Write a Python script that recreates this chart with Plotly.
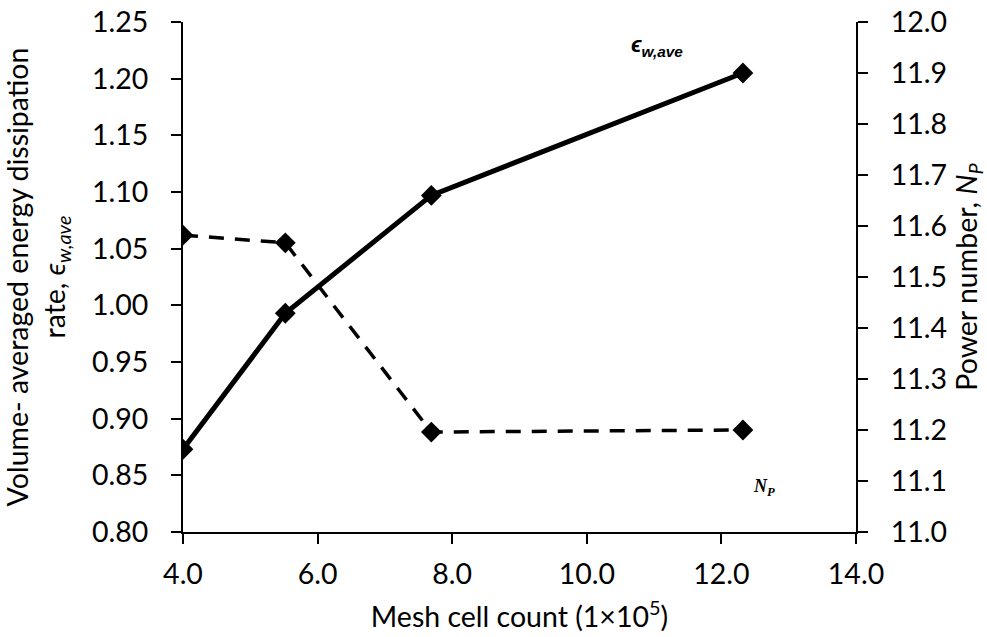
import plotly.graph_objects as go

mesh_cells = [4.0, 5.52, 7.69, 12.32]
eps_ave = [0.873, 0.993, 1.097, 1.205]
power_number = [11.582, 11.567, 11.196, 11.200]

x_ticks = [4, 6, 8, 10, 12, 14]
left_ticks = [0.80, 0.85, 0.90, 0.95, 1.00, 1.05, 1.10, 1.15, 1.20, 1.25]
right_ticks = [11.0, 11.1, 11.2, 11.3, 11.4, 11.5, 11.6, 11.7, 11.8, 11.9, 12.0]

FONT = "Lato"
TS = 28.5

fig = go.Figure()
fig.add_trace(go.Scatter(
    x=mesh_cells, y=eps_ave, mode="lines+markers",
    line=dict(color="black", width=5),
    marker=dict(symbol="diamond", size=16, color="black"),
    showlegend=False,
))
fig.add_trace(go.Scatter(
    x=mesh_cells, y=power_number, mode="lines+markers", yaxis="y2",
    line=dict(color="black", width=3.5, dash="15px,11px"),
    marker=dict(symbol="diamond", size=16, color="black"),
    showlegend=False,
))

axis_common = dict(
    showline=True, linecolor="black", linewidth=2, mirror=False,
    ticks="outside", ticklen=10, tickwidth=2, tickcolor="black",
    showgrid=False, zeroline=False,
    tickfont=dict(family=FONT, size=TS, color="black"),
)

fig.update_layout(
    width=987, height=637,
    margin=dict(l=183, r=131, t=22, b=105),
    paper_bgcolor="white", plot_bgcolor="white",
    font=dict(family=FONT, color="black"),
    xaxis=dict(
        range=[4, 14], tickvals=x_ticks, tickformat=".1f",
        title=dict(text="Mesh cell count (1×10<sup>5</sup>)",
                   font=dict(family=FONT, size=TS), standoff=18),
        ticklabelstandoff=6,
        automargin=False,
        **axis_common,
    ),
    yaxis=dict(
        range=[0.80, 1.25], tickvals=left_ticks, tickformat=".2f",
        title=dict(text="Volume- averaged energy dissipation<br>rate, <i>ϵ<sub>w,ave</sub></i>",
                   font=dict(family=FONT, size=TS), standoff=32),
        ticklabelstandoff=17,
        automargin=False,
        **axis_common,
    ),
    yaxis2=dict(
        range=[11.0, 12.0], tickvals=right_ticks, tickformat=".1f",
        overlaying="y", side="right",
        title=dict(text="Power number, <i>N<sub>P</sub></i>",
                   font=dict(family=FONT, size=TS), standoff=14),
        ticklabelstandoff=17,
        automargin=False,
        **axis_common,
    ),
)

fig.add_annotation(
    x=11.04, y=0.985, xref="x", yref="paper",
    text="<b><i>ϵ<sub>w,ave</sub></i></b>", showarrow=False,
    font=dict(family="Liberation Sans", size=22, color="black"),
)
fig.add_annotation(
    x=12.63, y=0.06, xref="x", yref="paper",
    text="<b><i>N<sub>P</sub></i></b>", showarrow=False,
    font=dict(family="Liberation Serif", size=18, color="black"),
)

fig.write_html("out.html")
